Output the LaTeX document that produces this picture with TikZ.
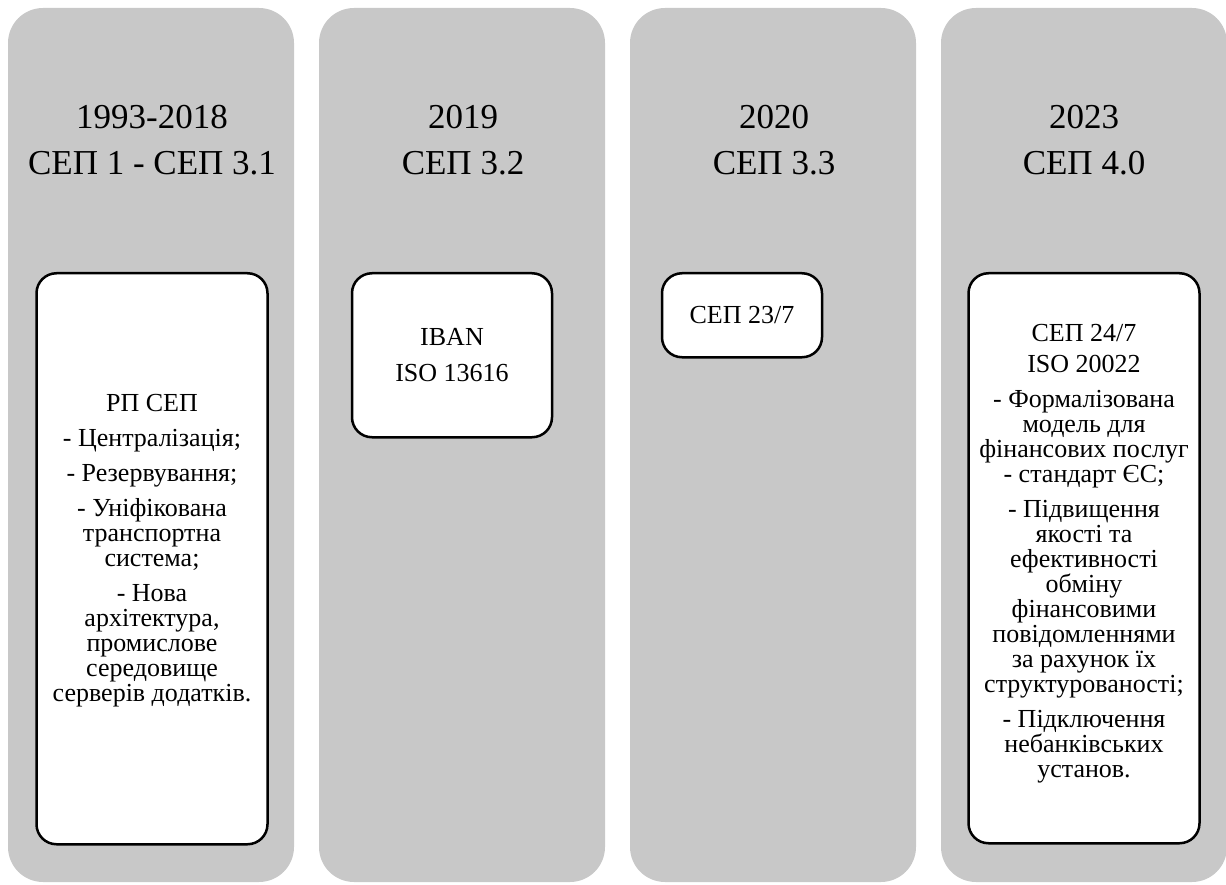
\documentclass[tikz,border=0pt]{standalone}
\usepackage{fontspec}
\setmainfont{Liberation Serif}
\usepackage{xcolor}
\usetikzlibrary{positioning}
\definecolor{colGray}{HTML}{C8C8C8}

\begin{document}
\begin{tikzpicture}[x=1pt, y=-1pt,
  %% --- Styles ---
  column/.style={fill=colGray, draw=none, rounded corners=35pt},
  title/.style={align=center, font=\fontsize{35}{46}\selectfont, inner sep=0pt},
  stagebox/.style={
    rectangle, rounded corners=20pt,
    fill=white, draw=black, line width=2.5pt,
    align=center, anchor=north, inner sep=2pt,
    font=\fontsize{26}{25}\selectfont
  }
]
\useasboundingbox (0,0) rectangle (1226,885);

%% =========================================================
%% COLUMNS
%% =========================================================
\foreach \x in {8,319,630,941}
  \fill[column] (\x,8) rectangle ++(286,874);

%% =========================================================
%% TITLES
%% =========================================================
\node (t1) [title] at (152,140.5) {1993-2018\\СЕП 1 - СЕП 3.1};
\node (t2) [title] at (463,140.5) {2019\\СЕП 3.2};
\node (t3) [title] at (774,140.5) {2020\\СЕП 3.3};
\node (t4) [title] at (1084,140.5) {2023\\СЕП 4.0};

%% =========================================================
%% STAGE BOXES
%% =========================================================
\node (b1) [stagebox, minimum width=231pt, minimum height=571pt, text depth=22pt] at (152,272)
  {РП СЕП\\[10pt]
   - Централізація;\\[10pt]
   - Резервування;\\[10pt]
   - Уніфікована\\транспортна\\система;\\[10pt]
   - Нова\\архітектура,\\промислове\\середовище\\серверів додатків.};

\node (b2) [stagebox, minimum width=200pt, minimum height=164pt] at (452,272)
  {IBAN\\[11pt]ISO 13616};

\node (b3) [stagebox, minimum width=160pt, minimum height=84pt] at (742,272)
  {СЕП 23/7};

\node (b4) [stagebox, minimum width=231pt, minimum height=570pt, text depth=15pt] at (1084,272)
  {СЕП 24/7\\[6pt]
   ISO 20022\\[10pt]
   - Формалізована\\модель для\\фінансових послуг\\- стандарт ЄС;\\[10pt]
   - Підвищення\\якості та\\ефективності\\обміну\\фінансовими\\повідомленнями\\за рахунок їх\\структурованості;\\[10pt]
   - Підключення\\небанківських\\установ.};

\end{tikzpicture}
\end{document}
